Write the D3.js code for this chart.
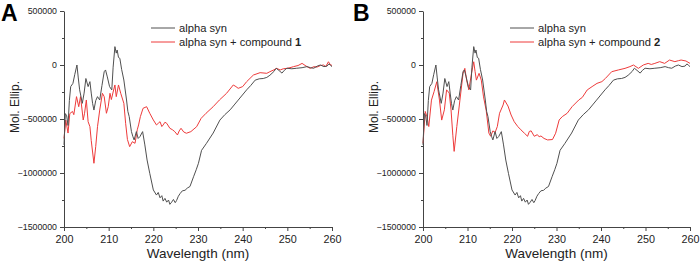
<!DOCTYPE html>
<html>
<head>
<meta charset="utf-8">
<script src="https://cdn.jsdelivr.net/npm/d3@7"></script>
<style>
  body { margin: 0; background: #fff; }
  svg { font-family: "Liberation Sans", Arial, sans-serif; }
  .axis path, .axis line { stroke: #444; }
  .axis text { fill: #222; }
</style>
</head>
<body>
<svg width="700" height="262"></svg>
<script>
// wavelength (nm), molar ellipticity
var alphaSyn = [
    [200, -740000], [200.3, -450000], [200.6, -470000], [200.9, -560000], [201.2, -330000],
    [201.5, -200000], [202, -170000], [202.4, -90000], [202.9, 0], [203.2, -120000],
    [203.5, -230000], [204.1, -355000], [204.5, -260000], [204.9, -125000], [205.4, -200000],
    [205.8, -154000], [206.1, -260000], [206.4, -355000], [206.7, -417000], [207.1, -330000],
    [207.5, -293000], [208, -324000], [208.5, -190000], [209, -62000], [209.3, -46000],
    [209.7, -110000], [210.2, -200000], [210.7, -231000], [211, -20000], [211.4, 170000],
    [211.7, 110000], [211.9, 139000], [212.2, 70000], [212.5, 62000], [212.9, -40000],
    [213.4, -139000], [214, -324000], [214.3, -430000], [214.6, -478000], [215.1, -617000],
    [215.4, -660000], [215.7, -694000], [216.2, -617000], [216.6, -680000], [217, -663000],
    [217.6, -617000], [218.1, -740000], [218.6, -880000], [219.2, -1003000], [220, -1157000],
    [220.7, -1204000], [221.1, -1180000], [221.5, -1230000], [221.9, -1210000], [222.2, -1260000],
    [222.6, -1235000], [223, -1270000], [223.4, -1250000], [223.7, -1290000], [224.1, -1270000],
    [224.5, -1245000], [224.9, -1275000], [225.2, -1255000], [225.6, -1215000], [226, -1190000],
    [226.5, -1165000], [227.1, -1160000], [227.6, -1140000], [228.2, -1125000], [229, -1035000],
    [229.6, -970000], [230.1, -910000], [230.8, -790000], [231.9, -725000], [233.4, -630000],
    [234.9, -510000], [236, -460000], [237.2, -415000], [238.1, -370000], [239, -325000],
    [240.9, -230000], [241.8, -190000], [242.8, -140000], [243.7, -128000], [244.6, -125000],
    [245.4, -115000], [246.1, -95000], [247, -60000], [247.5, -30000], [248.1, -50000],
    [248.8, -75000], [249.3, -50000], [249.9, -30000], [251, -35000], [252.1, -30000],
    [253.3, -25000], [254.4, -15000], [255.2, -25000], [255.9, -30000], [256.7, -10000],
    [257.4, 0], [258.2, -15000], [258.9, -10000], [259.3, 10000], [259.6, 0], [260, -15000]
];

var compound1 = [
    [200, -680000], [200.4, -510000], [200.9, -630000], [201.3, -450000], [201.9, -430000],
    [202.2, -460000], [202.8, -293000], [203.3, -386000], [203.7, -293000], [204.3, -509000],
    [204.6, -447000], [205, -324000], [205.4, -525000], [205.8, -571000], [206.1, -700000],
    [206.7, -910000], [207.1, -756000], [207.5, -571000], [208, -417000], [208.6, -262000],
    [209, -293000], [209.5, -447000], [209.9, -386000], [210.3, -262000], [210.6, -320000],
    [211, -250000], [211.4, -185000], [211.7, -293000], [212.2, -185000], [212.7, -262000],
    [213.4, -355000], [213.8, -540000], [214.2, -690000], [214.7, -756000], [215.3, -710000],
    [215.9, -725000], [216.4, -600000], [216.7, -555000], [217.1, -478000], [217.7, -401000],
    [218.5, -386000], [219.2, -447000], [220, -509000], [220.7, -555000], [221.1, -540000],
    [221.5, -525000], [221.9, -570000], [222.2, -555000], [222.6, -530000], [223, -540000],
    [223.7, -586000], [224.3, -600000], [224.8, -617000], [225.4, -648000], [225.8, -610000],
    [226.2, -586000], [226.8, -620000], [227.4, -632000], [228.4, -617000], [229.7, -571000],
    [230.7, -494000], [231.8, -447000], [233.4, -386000], [234.8, -324000], [236.4, -262000],
    [237.9, -185000], [238.5, -200000], [239, -216000], [240, -200000], [240.9, -154000],
    [242.4, -93000], [243.9, -71000], [245.4, -77000], [246.1, -62000], [247, -45000],
    [247.6, -31000], [248.4, -46000], [249.1, -35000], [249.9, -31000], [250.6, -25000],
    [251.4, -15000], [252.4, -5000], [253.3, 15000], [254.2, -10000], [255.1, -31000],
    [256, -15000], [256.6, -20000], [257.4, -5000], [258.1, 0], [258.6, -15000],
    [259.2, 30000], [259.6, 5000], [260, -5000]
];

var compound2 = [
    [200, -725000], [200.5, -430000], [200.9, -480000], [201.3, -570000], [201.9, -325000],
    [202.5, -245000], [203.1, -155000], [203.7, -325000], [204.2, -510000], [204.8, -415000],
    [205.3, -230000], [205.9, -260000], [206.3, -415000], [206.7, -650000], [207, -800000],
    [207.6, -570000], [208.3, -325000], [209, -77000], [209.4, -31000], [209.8, -140000],
    [210.3, -230000], [210.9, -77000], [211.4, 30000], [211.7, -60000], [212, -140000],
    [212.6, -77000], [213.1, -140000], [213.6, -295000], [214.2, -420000], [214.8, -630000],
    [215.2, -660000], [215.7, -610000], [216.2, -625000], [216.7, -570000], [217.2, -447000],
    [218, -370000], [218.3, -324000], [219.1, -380000], [219.8, -463000], [220.5, -525000],
    [221.3, -570000], [222, -600000], [222.8, -632000], [223.5, -660000], [223.9, -615000],
    [224.3, -610000], [225, -660000], [225.7, -645000], [226.1, -665000], [226.5, -657000],
    [227.2, -680000], [228, -694000], [229.1, -690000], [229.8, -632000], [230.6, -509000],
    [231.3, -478000], [232.4, -447000], [233.5, -386000], [235, -324000], [235.8, -300000],
    [236.9, -231000], [238, -200000], [239.1, -170000], [240.2, -154000], [241, -124000],
    [242.4, -62000], [243.9, -46000], [245.4, -31000], [246.5, -15000], [247.3, 0],
    [248.4, -31000], [249.5, 0], [250.6, 15000], [251.3, 5000], [252.1, 15000],
    [253.2, 31000], [254.3, 15000], [255.4, 46000], [256.6, 31000], [257.4, 40000],
    [258, 46000], [259.1, 37000], [260, 15000]
];

var yTicks = [500000, 0, -500000, -1000000, -1500000];
var xTicks = [200, 210, 220, 230, 240, 250, 260];

var panels = [
    { letter: "A", left: 64, right: 332, letterX: 1, other: compound1, num: "1" },
    { letter: "B", left: 423, right: 690, letterX: 353, other: compound2, num: "2" }
];

var svg = d3.select("svg");
var plotTop = 11, plotBottom = 227;

var y = d3.scaleLinear()
    .domain([-1500000, 500000])
    .range([plotBottom, plotTop]);

panels.forEach(function(p) {
    var x = d3.scaleLinear()
        .domain([200, 260])
        .range([p.left, p.right]);

    var g = svg.append("g");

    // minor ticks
    g.append("g")
        .attr("class", "axis")
        .attr("transform", "translate(0," + plotBottom + ")")
        .call(d3.axisBottom(x).tickValues(d3.range(205, 260, 10)).tickSize(2).tickFormat(""))
        .select(".domain").remove();
    g.append("g")
        .attr("class", "axis")
        .attr("transform", "translate(" + p.left + ",0)")
        .call(d3.axisLeft(y).tickValues([250000, -250000, -750000, -1250000]).tickSize(2).tickFormat(""))
        .select(".domain").remove();

    g.append("g")
        .attr("class", "axis")
        .attr("transform", "translate(0," + plotBottom + ")")
        .call(d3.axisBottom(x).tickValues(xTicks).tickSize(4).tickSizeOuter(0).tickPadding(4))
        .selectAll("text")
        .style("font-size", "10.8px");

    g.append("g")
        .attr("class", "axis")
        .attr("transform", "translate(" + p.left + ",0)")
        .call(d3.axisLeft(y).tickValues(yTicks).tickSize(4).tickSizeOuter(0).tickPadding(3)
            .tickFormat(d3.format("d")))
        .selectAll("text")
        .style("font-size", "8.8px");

    var line = d3.line()
        .x(function(d) { return x(d[0]); })
        .y(function(d) { return y(d[1]); });

    g.append("path")
        .datum(p.other)
        .attr("fill", "none")
        .attr("stroke", "#ee3b3b")
        .attr("stroke-width", 1)
        .attr("d", line);

    g.append("path")
        .datum(alphaSyn)
        .attr("fill", "none")
        .attr("stroke", "#505050")
        .attr("stroke-width", 1)
        .attr("d", line);

    // axis titles
    g.append("text")
        .attr("x", (p.left + p.right) / 2)
        .attr("y", 258)
        .attr("text-anchor", "middle")
        .style("font-size", "13.5px")
        .style("fill", "#222")
        .text("Wavelength (nm)");

    g.append("text")
        .attr("transform", "translate(" + (p.left - 45) + "," + 107 + ") rotate(-90)")
        .attr("text-anchor", "middle")
        .style("font-size", "12px")
        .style("fill", "#222")
        .text("Mol. Ellip.");

    // panel letter
    g.append("text")
        .attr("x", p.letterX)
        .attr("y", 21)
        .style("font-size", "23px")
        .style("font-weight", "bold")
        .style("fill", "#000")
        .text(p.letter);

    // legend
    var lx = p.left + 87;
    var legend = [
        { color: "#505050", label: "alpha syn", num: null },
        { color: "#ee3b3b", label: "alpha syn + compound ", num: p.num }
    ];
    legend.forEach(function(l, i) {
        var ly = 28 + i * 14;
        g.append("line")
            .attr("x1", lx).attr("x2", lx + 24)
            .attr("y1", ly).attr("y2", ly)
            .attr("stroke", l.color)
            .attr("stroke-width", 1);
        var t = g.append("text")
            .attr("x", lx + 28)
            .attr("y", ly + 4)
            .style("font-size", "11.2px")
            .style("fill", "#222")
            .text(l.label);
        if (l.num) {
            t.append("tspan").style("font-weight", "bold").text(l.num);
        }
    });
});
</script>
</body>
</html>
